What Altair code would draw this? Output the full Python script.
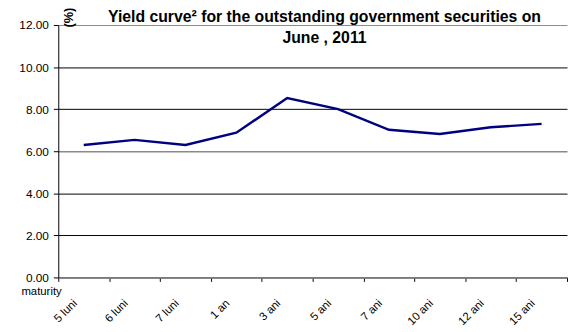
import altair as alt
import pandas as pd

maturities = ["5 luni", "6 luni", "7 luni", "1 an", "3 ani", "5 ani", "7 ani", "10 ani", "12 ani", "15 ani"]
yields = [6.30, 6.54, 6.30, 6.88, 8.53, 8.00, 7.02, 6.82, 7.14, 7.30]
y_ticks = [0, 2, 4, 6, 8, 10, 12]
title_lines = ["Yield curve\u00b2 for the outstanding government securities on", "June , 2011"]

df = pd.DataFrame({"maturity": maturities, "yield": yields})

FONT = "Liberation Sans"

chart = alt.Chart(df).mark_line(color="#000080", strokeWidth=2.5).encode(
    x=alt.X(
        "maturity:N",
        sort=maturities,
        bandPosition=0.5,
        scale=alt.Scale(type="band", paddingInner=0, paddingOuter=0),
        axis=alt.Axis(
            title="maturity",
            titleFont=FONT,
            titleFontSize=11.5,
            titleFontWeight="normal",
            titleColor="black",
            titleAlign="right",
            titleBaseline="alphabetic",
            titleX=3,
            titleY=17,
            labelFont=FONT,
            labelFontSize=11.5,
            labelColor="black",
            labelAngle=315,
            labelAlign="right",
            labelBaseline="top",
            labelPadding=16,
            labelOffset=-13,
            tickBand="extent",
            tickSize=4,
            tickColor="black",
            domainColor="#808080",
            domainWidth=1.5,
            grid=False,
        ),
    ),
    y=alt.Y(
        "yield:Q",
        scale=alt.Scale(domain=[0, 12]),
        axis=alt.Axis(
            values=y_ticks,
            format=".2f",
            title="(%)",
            titleFont=FONT,
            titleFontSize=13,
            titleFontWeight="bold",
            titleColor="black",
            titleAngle=270,
            titleAlign="center",
            titleBaseline="alphabetic",
            titleX=14,
            titleY=-8,
            labelFont=FONT,
            labelFontSize=12,
            labelColor="black",
            labelPadding=5,
            tickSize=5,
            tickColor="black",
            domainColor="black",
            gridColor=alt.condition("datum.value == 6 || datum.value == 12", alt.value("#8a8a8a"), alt.value("black")),
            gridWidth=alt.condition("datum.value == 6", alt.value(1.5), alt.value(1)),
            gridOpacity=1,
        ),
    ),
).properties(
    width=516,
    height=256,
    autosize=alt.AutoSizeParams(type="none"),
    padding={"left": 51, "top": 15, "right": 1, "bottom": 48},
    title=alt.TitleParams(
        text=title_lines,
        font=FONT,
        fontSize=16,
        fontWeight="bold",
        color="black",
        anchor="middle",
        baseline="alphabetic",
        lineHeight=21,
        offset=0,
        dx=12,
        dy=52,
    ),
).configure_view(stroke=None)

chart.save("out.html", embed_options={"renderer": "svg", "actions": False})
